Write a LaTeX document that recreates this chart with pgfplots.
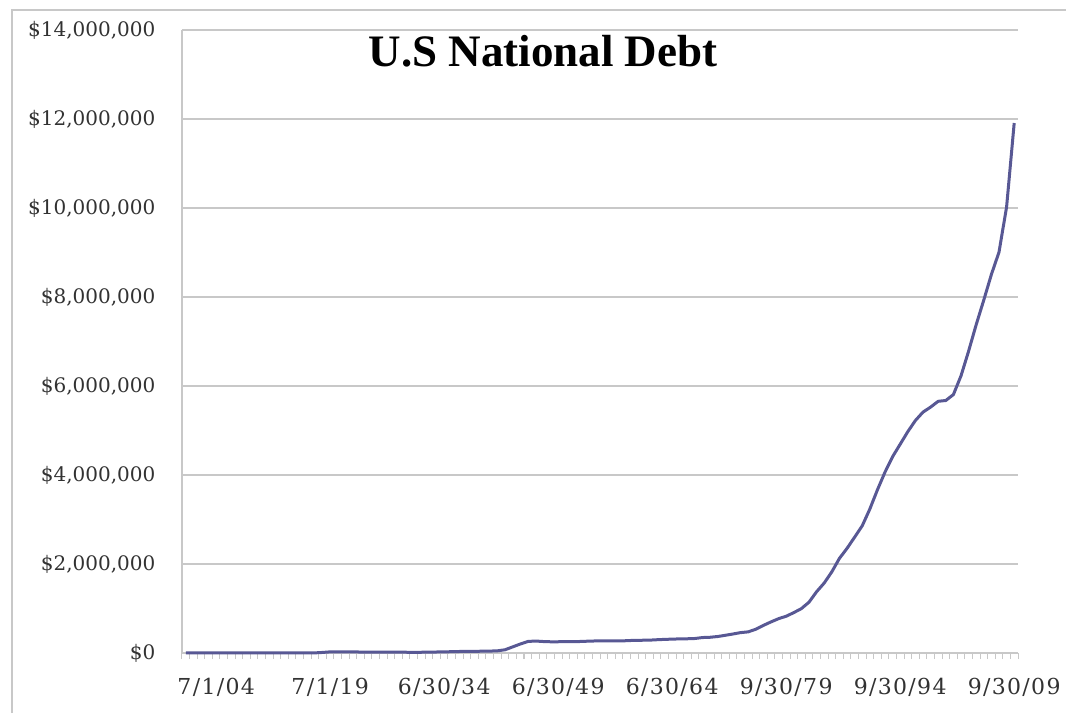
\documentclass[border=0pt]{standalone}
\usepackage{pgfplots}
\pgfplotsset{compat=1.18}
\usepackage{pgfplotstable}
\usepackage{fontspec}
\setmainfont{DejaVu Serif}
\newfontfamily\titlefont{Liberation Serif}
\newfontfamily\xlabfont[LetterSpace=6]{DejaVu Serif}
\definecolor{debtline}{RGB}{88,88,148}
\definecolor{gridgray}{RGB}{200,200,200}
\definecolor{labelgray}{RGB}{50,50,50}
\pgfplotstableread{
year debt
1900 2137
1901 2143
1902 2159
1903 2202
1904 2264
1905 2275
1906 2251
1907 2457
1908 2626
1909 2639
1910 2653
1911 2765
1912 2868
1913 2916
1914 2912
1915 3058
1916 3609
1917 2976
1918 12455
1919 25485
1920 24299
1921 23977
1922 22963
1923 22350
1924 21251
1925 20516
1926 19643
1927 18512
1928 17604
1929 16931
1930 16185
1931 16801
1932 19487
1933 22539
1934 27053
1935 28701
1936 33779
1937 36425
1938 37165
1939 40440
1940 42968
1941 48961
1942 72422
1943 136696
1944 201003
1945 258682
1946 269422
1947 258286
1948 252292
1949 252770
1950 257357
1951 255222
1952 259105
1953 266071
1954 271260
1955 274374
1956 272751
1957 270527
1958 276343
1959 284706
1960 286331
1961 288971
1962 298201
1963 305860
1964 311713
1965 317274
1966 319907
1967 326221
1968 347578
1969 353720
1970 370919
1971 398130
1972 427260
1973 458142
1974 475060
1975 533189
1976 620433
1977 698840
1978 771544
1979 826519
1980 907701
1981 997855
1982 1142034
1983 1377210
1984 1572266
1985 1823103
1986 2125302
1987 2350276
1988 2602338
1989 2857431
1990 3233313
1991 3665303
1992 4064621
1993 4411489
1994 4692750
1995 4973983
1996 5224811
1997 5413146
1998 5526193
1999 5656271
2000 5674178
2001 5807463
2002 6228236
2003 6783231
2004 7379053
2005 7932710
2006 8506974
2007 9007653
2008 10024725
2009 11909829
}\debt
\begin{document}
\begin{tikzpicture}
\path[use as bounding box] (-91pt,-30pt) rectangle (442pt,326.5pt);
\begin{axis}[
  scale only axis,
  width=418pt, height=311.5pt,
  at={(0pt,0pt)}, anchor=origin,
  xmin=1899.5, xmax=2009.5,
  ymin=0, ymax=14000000,
  scaled y ticks=false,
  axis lines*=left,
  axis line style={gridgray, line width=0.8pt},
  x axis line style={-}, y axis line style={-},
  xtick={1904,1919,1934,1949,1964,1979,1994,2009},
  xticklabels={7/1/04,7/1/19,6/30/34,6/30/49,6/30/64,9/30/79,9/30/94,9/30/09},
  minor xtick={1899.5,1900.5,...,2009.5},
  ytick={0,2000000,4000000,6000000,8000000,10000000,12000000,14000000},
  yticklabels={\$0,{\$2,000,000},{\$4,000,000},{\$6,000,000},{\$8,000,000},{\$10,000,000},{\$12,000,000},{\$14,000,000}},
  ymajorgrids,
  grid style={gridgray, line width=0.8pt},
  major x tick style={draw=none},
  minor x tick style={gridgray, line width=0.5pt},
  minor tick length=3pt,
  ytick style={draw=none},
  xtick pos=bottom,
  tick align=outside,
  yticklabel style={font=\fontsize{10}{12}\selectfont, text=labelgray, xshift=-5.5pt},
  xticklabel style={font=\xlabfont\fontsize{11}{13}\selectfont, text=labelgray, yshift=-5pt},
  clip=false,
]
\addplot[debtline, line width=1.5pt, line join=round] table[x=year, y=debt] {\debt};
\end{axis}
\node[font=\titlefont\bfseries\fontsize{22.5}{26}\selectfont] at (180.5pt,301pt) {U.S National Debt};
\draw[gridgray, line width=0.8pt] (-85pt,-30pt) -- (-85pt,321.5pt) -- (442pt,321.5pt);
\end{tikzpicture}
\end{document}
